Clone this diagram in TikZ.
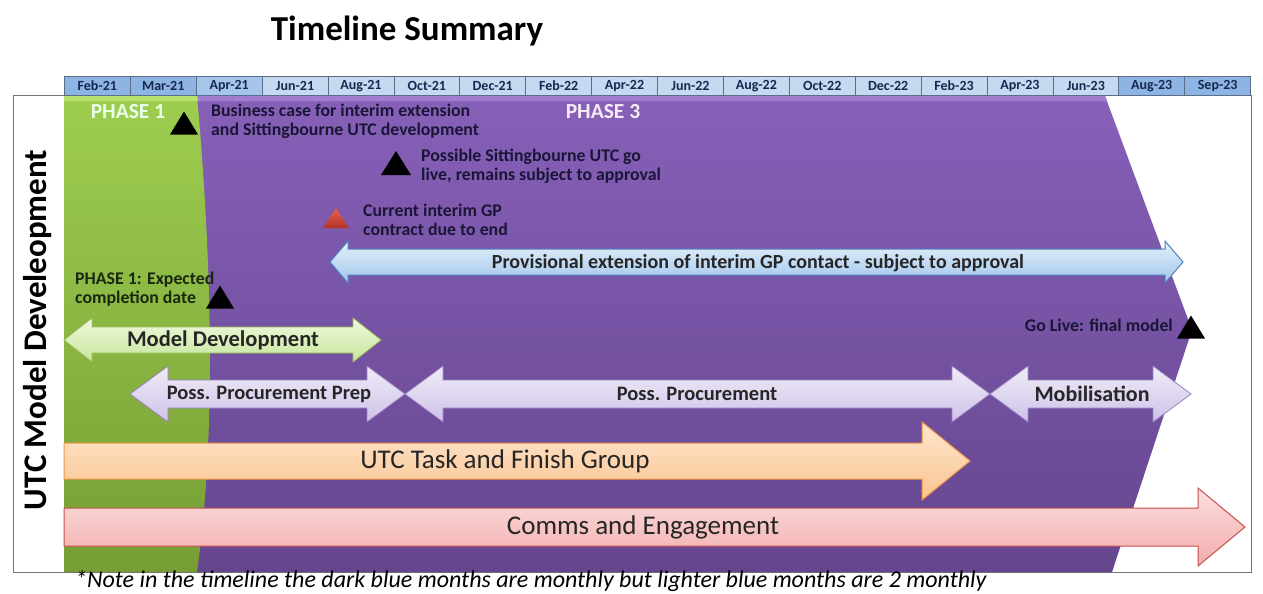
\documentclass[tikz,border=0pt]{standalone}
\usepackage{fontspec}
\setmainfont{Carlito}
\usetikzlibrary{calc}
\definecolor{hdrdark}{RGB}{141,180,226}
\definecolor{hdrmid}{RGB}{166,197,234}
\definecolor{hdrlight}{RGB}{198,217,241}
\definecolor{hdrborder}{RGB}{90,110,140}
\definecolor{hdrtext}{RGB}{22,40,80}
\definecolor{annot}{RGB}{25,22,55}
\definecolor{purpT}{RGB}{135,96,184}
\definecolor{purpB}{RGB}{100,70,142}
\definecolor{greenT}{RGB}{158,206,80}
\definecolor{greenB}{RGB}{118,158,52}
\tikzset{
  hdrcell/.style={draw=hdrborder,line width=0.8pt,minimum width=65.9pt,minimum height=19pt,inner sep=0pt,anchor=north west,
     font=\bfseries\fontsize{14}{16}\selectfont,text=hdrtext},
  annottext/.style={font=\bfseries\fontsize{17.8}{18.5}\selectfont,text=annot,align=left,inner sep=0pt},
  arrowlabel/.style={font=\bfseries\fontsize{20.5}{23}\selectfont,text=black!85,inner sep=0pt},
  biglabel/.style={font=\fontsize{27}{30}\selectfont,text=black!85,inner sep=0pt},
  phaselabel/.style={font=\bfseries\fontsize{21.5}{23}\selectfont,inner sep=0pt},
  bluearrow/.style={draw={rgb,255:red,79;green,129;blue,189},line width=1pt,top color={rgb,255:red,230;green,240;blue,251},bottom color={rgb,255:red,160;green,198;blue,236}},
  greenarrow/.style={draw={rgb,255:red,155;green,187;blue,89},line width=0.8pt,top color={rgb,255:red,240;green,249;blue,222},bottom color={rgb,255:red,198;green,229;blue,155}},
  lavarrow/.style={draw={rgb,255:red,150;green,130;blue,190},line width=0.8pt,top color={rgb,255:red,240;green,236;blue,248},bottom color={rgb,255:red,206;green,194;blue,232}},
  orangearrow/.style={draw={rgb,255:red,240;green,150;blue,70},line width=1pt,top color={rgb,255:red,253;green,230;blue,208},bottom color={rgb,255:red,251;green,196;blue,142}},
  pinkarrow/.style={draw={rgb,255:red,200;green,80;blue,77},line width=1pt,top color={rgb,255:red,251;green,222;blue,222},bottom color={rgb,255:red,243;green,172;blue,172}},
  marker/.style={fill=black},
  redmarker/.style={top color={rgb,255:red,230;green,100;blue,80},bottom color={rgb,255:red,180;green,50;blue,40}},
}
% double arrow: x1, x2, yc, shaft half, head half, head length, style
\newcommand{\dblarrow}[7]{%
  \path[#7] (#1,#3) -- (#1+#6,#3-#5) -- (#1+#6,#3-#4) -- (#2-#6,#3-#4) -- (#2-#6,#3-#5) -- (#2,#3)
     -- (#2-#6,#3+#5) -- (#2-#6,#3+#4) -- (#1+#6,#3+#4) -- (#1+#6,#3+#5) -- cycle;}
% single arrow: x1, x2, yc, shaft half, head half, head length, style
\newcommand{\sglarrow}[7]{%
  \path[#7] (#1,#3-#4) -- (#2-#6,#3-#4) -- (#2-#6,#3-#5) -- (#2,#3) -- (#2-#6,#3+#5) -- (#2-#6,#3+#4) -- (#1,#3+#4) -- cycle;}
% triangle marker: xc, yc, w, h, style
\newcommand{\trimark}[5]{%
  \path[#5] (#1-#3/2,#2+#4/2) -- (#1,#2-#4/2) -- (#1+#3/2,#2+#4/2) -- cycle;}
\begin{document}
\begin{tikzpicture}[x=1pt,y=-1pt]
\useasboundingbox[fill=white] (0,0) rectangle (1263,594);
% title
\node[font=\bfseries\fontsize{35}{38}\selectfont,inner sep=0pt] (title) at (407,31) {Timeline Summary};
% frame
\draw[draw=black!55,line width=1pt,fill=white] (13,95) rectangle (1251,572);
% purple phase 3
\path[top color=purpT,bottom color=purpB] (64,96) -- (1105,96) -- (1192,330) -- (1112,572) -- (64,572) -- cycle;
\path[fill={rgb,255:red,160;green,125;blue,205}] (64,96) -- (1105,96) -- (1107,101) -- (64,101) -- cycle;
% green phase 1
\path[top color=greenT,bottom color=greenB] (64,96) -- (197,96) .. controls (211,250) and (217,430) .. (197,572) -- (64,572) -- cycle;
\path[fill={rgb,255:red,185;green,225;blue,110}] (64,96) -- (197,96) -- (198,101) -- (64,101) -- cycle;
% header
\foreach \lab [count=\i from 0] in {Feb-21,Mar-21,Apr-21,Jun-21,Aug-21,Oct-21,Dec-21,Feb-22,Apr-22,Jun-22,Aug-22,Oct-22,Dec-22,Feb-23,Apr-23,Jun-23,Aug-23,Sep-23}{
  \ifnum\i<2 \def\cc{hdrdark}\else\ifnum\i=2 \def\cc{hdrmid}\else\ifnum\i>15 \def\cc{hdrdark}\else\def\cc{hdrlight}\fi\fi\fi
  \node[hdrcell,fill=\cc] (h\i) at ({64+65.9*\i},76) {\lab};
}
% vertical title
\node[rotate=90,font=\bfseries\fontsize{33}{36}\selectfont,inner sep=0pt] (vtitle) at (38,330) {UTC Model Develeopment};
% phase labels
\node[phaselabel,text=white!92!green] (ph1) at (128,112) {PHASE 1};
\node[phaselabel,text=white!92!violet] (ph3) at (603,112) {PHASE 3};
% markers
\trimark{184}{123}{28}{23}{marker}
\trimark{396}{163}{30}{24}{marker}
\trimark{336}{218}{26}{20}{redmarker}
\trimark{220}{297}{28}{23}{marker}
\trimark{1191}{327}{28}{23}{marker}
% annotations
\node[annottext,anchor=north west] (a1) at (211,104) {Business case for interim extension\\and Sittingbourne UTC development};
\node[annottext,anchor=north west] (a2) at (421,149) {Possible Sittingbourne UTC go\\live, remains subject to approval};
\node[annottext,anchor=north west] (a3) at (363,204) {Current interim GP\\contract due to end};
\node[annottext,anchor=north west,text={rgb,255:red,25;green,40;blue,15}] (a4) at (75,272) {PHASE 1: Expected\\completion date};
\node[annottext,anchor=east] (a5) at (1173,325) {Go Live: final model};
% arrows
\dblarrow{330}{1183}{262}{13}{21}{18}{bluearrow}
\node[arrowlabel,font=\bfseries\fontsize{20}{22}\selectfont] (lprov) at (758,263) {Provisional extension of interim GP contact - subject to approval};
\dblarrow{64}{381}{340}{13}{22}{28}{greenarrow}
\node[arrowlabel,font=\bfseries\fontsize{22.5}{25}\selectfont] (lmod) at (223,340) {Model Development};
\dblarrow{130}{405}{394}{14}{28}{38}{lavarrow}
\node[arrowlabel] (lprep) at (269,394) {Poss. Procurement Prep};
\dblarrow{405}{990}{394}{14}{28}{38}{lavarrow}
\node[arrowlabel] (lproc) at (697,394) {Poss. Procurement};
\dblarrow{990}{1191}{394}{14}{28}{38}{lavarrow}
\node[arrowlabel,font=\bfseries\fontsize{22}{24}\selectfont] (lmob) at (1092,394) {Mobilisation};
\sglarrow{64}{970}{461}{18}{39}{48}{orangearrow}
\node[biglabel] (ltask) at (505,461) {UTC Task and Finish Group};
\sglarrow{64}{1245}{527}{19}{39}{47}{pinkarrow}
\node[biglabel] (lcomms) at (643,527) {Comms and Engagement};
% footnote
\node[font=\itshape\fontsize{24}{26}\selectfont,anchor=base west,inner sep=0pt] (note) at (75,587) {*Note in the timeline the dark blue months are monthly but lighter blue months are 2 monthly};
\end{tikzpicture}
\end{document}
